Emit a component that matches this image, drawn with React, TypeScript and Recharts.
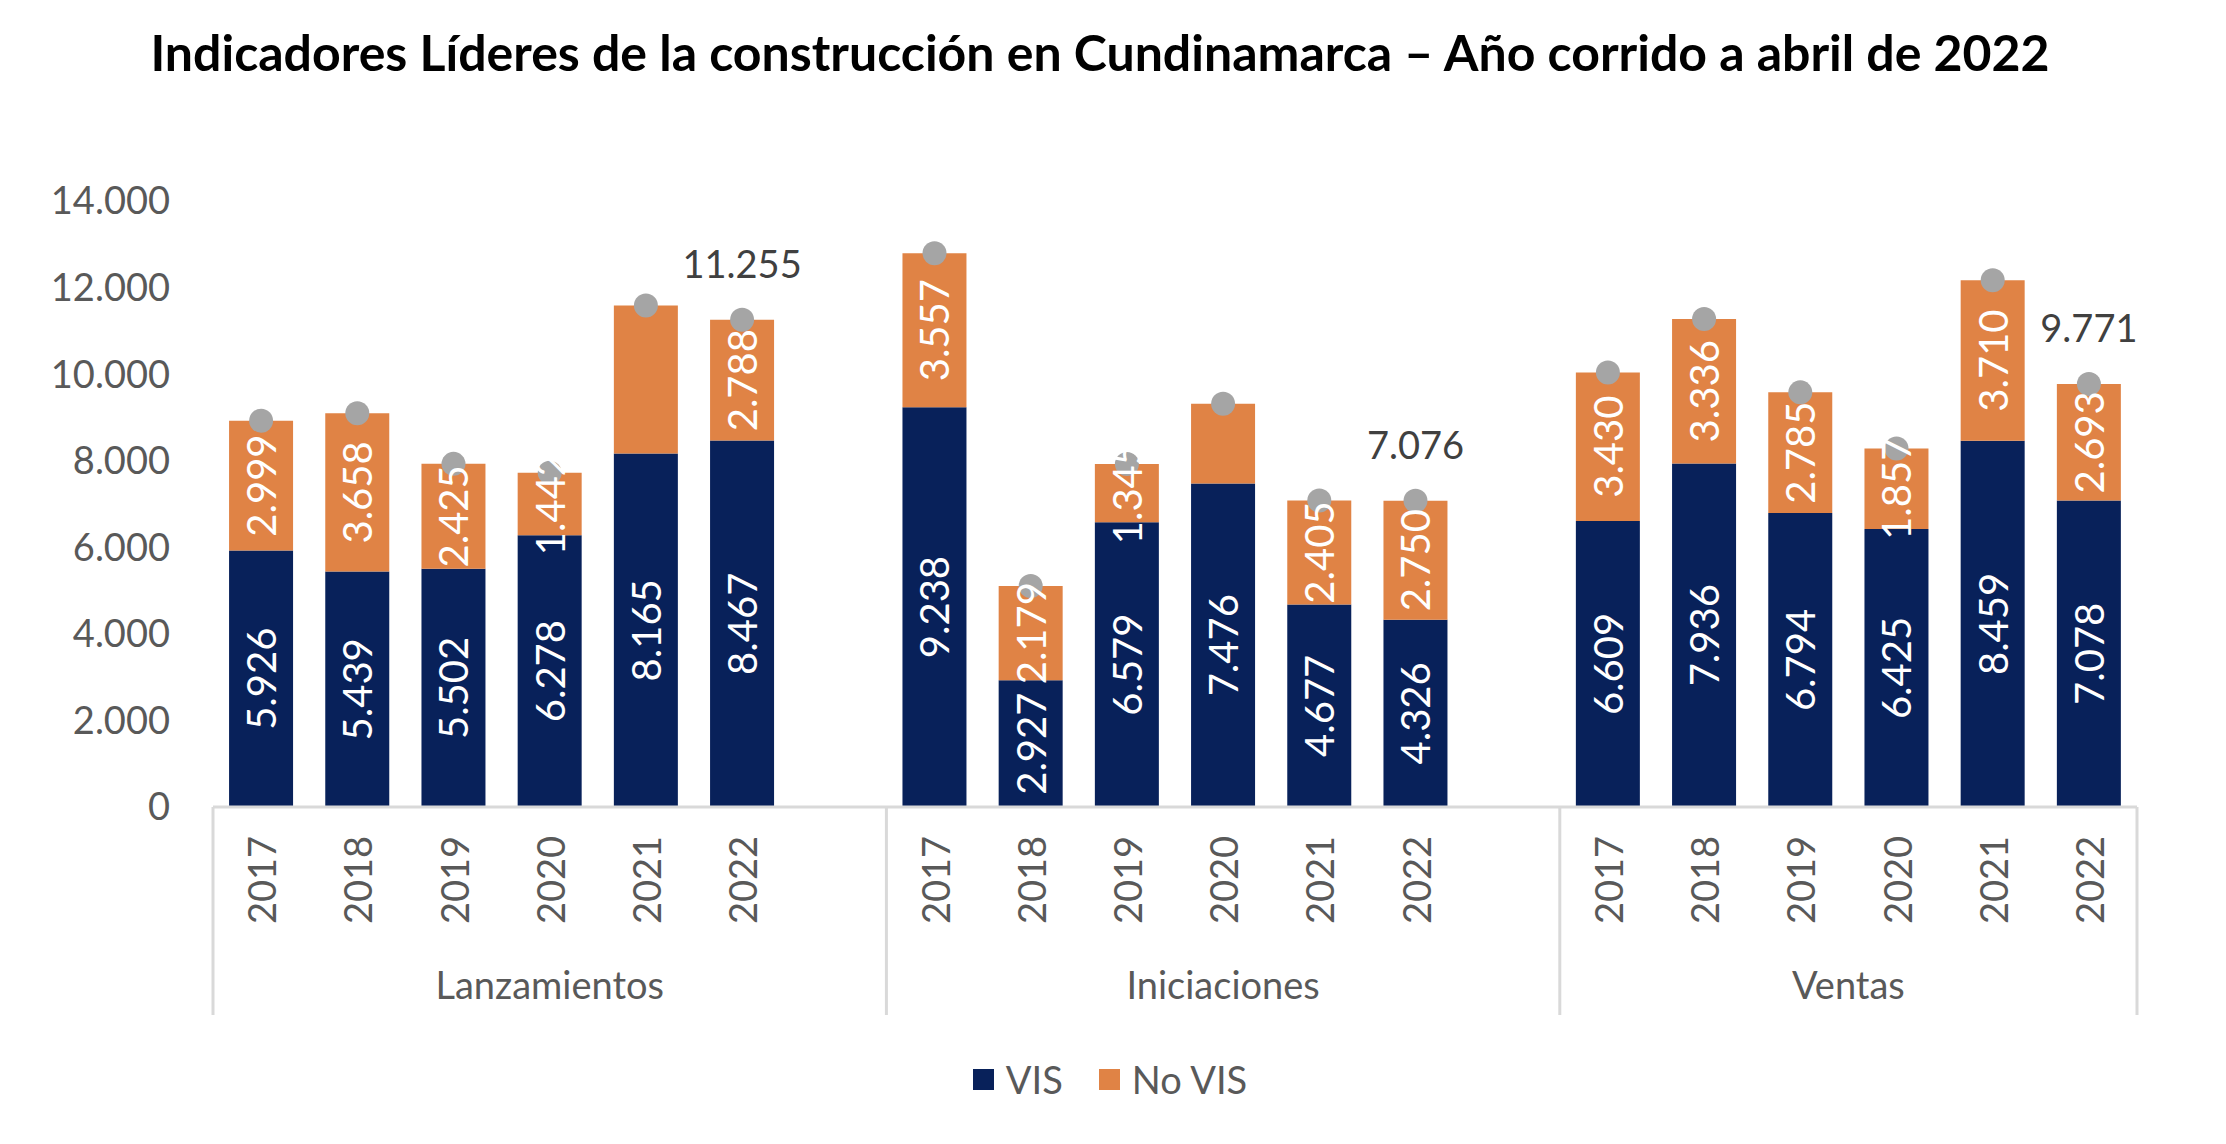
import React from 'react';
import { ComposedChart, Bar, Line, XAxis, YAxis, LabelList } from 'recharts';

const groups = ['Lanzamientos', 'Iniciaciones', 'Ventas'];
const years = ['2017', '2018', '2019', '2020', '2021', '2022'];
const lanzamientosVIS = [5926, 5439, 5502, 6278, 8165, 8467];
const lanzamientosNoVIS = [2999, 3658, 2425, 1442, 3420, 2788];
const iniciacionesVIS = [9238, 2927, 6579, 7476, 4677, 4326];
const iniciacionesNoVIS = [3557, 2179, 1345, 1840, 2405, 2750];
const ventasVIS = [6609, 7936, 6794, 6425, 8459, 7078];
const ventasNoVIS = [3430, 3336, 2785, 1857, 3710, 2693];
const hiddenNoVisLabels = ['Lanzamientos 2021', 'Iniciaciones 2020'];
const totalLabelYear = '2022';
const yTicks = [0, 2000, 4000, 6000, 8000, 10000, 12000, 14000];

const NAVY = '#08215A';
const ORANGE = '#E08345';
const GREY_DOT = '#A5A5A5';
const AXIS_TEXT = '#595959';
const FONT = 'Lato, "Open Sans", sans-serif';

const visByGroup = [lanzamientosVIS, iniciacionesVIS, ventasVIS];
const noVisByGroup = [lanzamientosNoVIS, iniciacionesNoVIS, ventasNoVIS];

type Row = {
  key: string;
  group: string;
  year: string;
  vis: number | null;
  noVis: number | null;
  total: number | null;
  visLabel: number | null;
  noVisLabel: number | null;
  totalLabel: number | null;
  groupStart: boolean;
  groupSize: number;
  last: boolean;
};

const data: Row[] = [];
groups.forEach((g, gi) => {
  const isLastGroup = gi === groups.length - 1;
  const size = years.length + (isLastGroup ? 0 : 1);
  years.forEach((yr, yi) => {
    const v = visByGroup[gi][yi];
    const n = noVisByGroup[gi][yi];
    const key = `${g} ${yr}`;
    data.push({
      key,
      group: g,
      year: yr,
      vis: v,
      noVis: n,
      total: v + n,
      visLabel: v,
      noVisLabel: hiddenNoVisLabels.includes(key) ? null : n,
      totalLabel: yr === totalLabelYear ? v + n : null,
      groupStart: yi === 0,
      groupSize: size,
      last: isLastGroup && yi === years.length - 1,
    });
  });
  if (!isLastGroup) {
    data.push({
      key: `gap ${gi}`,
      group: g,
      year: '',
      vis: null,
      noVis: null,
      total: null,
      visLabel: null,
      noVisLabel: null,
      totalLabel: null,
      groupStart: false,
      groupSize: size,
      last: false,
    });
  }
});

const fmt = (v: number) => {
  const s = String(Math.round(v));
  return s.replace(/\B(?=(\d{3})+(?!\d))/g, '.');
};

const XTick = (props: any) => {
  const { x, y, payload } = props;
  const index = payload?.index ?? props.index;
  const row = data[index];
  if (!row) return null;
  const half = payload?.offset ?? 48;
  const lineLen = 208;
  const items: React.ReactNode[] = [];
  if (row.year) {
    const ty = y + 73;
    items.push(
      <text
        key="yr"
        x={x}
        y={ty}
        transform={`rotate(-90, ${x}, ${ty})`}
        textAnchor="middle"
        dominantBaseline="central"
        fontSize={38}
        fill={AXIS_TEXT}
        fontFamily={FONT}
      >
        {row.year}
      </text>
    );
  }
  if (row.groupStart) {
    const left = x - half;
    items.push(
      <line key="sep" x1={left} x2={left} y1={y} y2={y + lineLen} stroke="#D9D9D9" strokeWidth={3} />
    );
    items.push(
      <text
        key="grp"
        x={left + row.groupSize * half}
        y={y + 177}
        textAnchor="middle"
        dominantBaseline="central"
        fontSize={38}
        fill={AXIS_TEXT}
        fontFamily={FONT}
      >
        {row.group}
      </text>
    );
  }
  if (row.last) {
    const right = x + half;
    items.push(
      <line key="end" x1={right} x2={right} y1={y} y2={y + lineLen} stroke="#D9D9D9" strokeWidth={3} />
    );
  }
  return <g>{items}</g>;
};

const BarLabel = (props: any) => {
  const { x, y, width, height, value } = props;
  if (value == null || Number.isNaN(Number(value))) return null;
  const cx = x + width / 2;
  const cy = y + height / 2;
  return (
    <text
      x={cx}
      y={cy}
      transform={`rotate(-90, ${cx}, ${cy})`}
      textAnchor="middle"
      dominantBaseline="central"
      fontSize={40}
      fill="#FFFFFF"
      fontFamily={FONT}
    >
      {fmt(Number(value))}
    </text>
  );
};

const TotalLabel = (props: any) => {
  const { x, y, value } = props;
  if (value == null || Number.isNaN(Number(value))) return null;
  return (
    <text
      x={x}
      y={y - 57}
      textAnchor="middle"
      dominantBaseline="central"
      fontSize={38}
      fill="#404040"
      fontFamily={FONT}
    >
      {fmt(Number(value))}
    </text>
  );
};

const legendItems = [
  { name: 'VIS', color: NAVY },
  { name: 'No VIS', color: ORANGE },
];

export default function App() {
  return (
    <div
      style={{
        position: 'absolute',
        left: 0,
        top: 0,
        width: 2226,
        height: 1144,
        background: '#FFFFFF',
        fontFamily: FONT,
        overflow: 'hidden',
      }}
    >
      <div
        style={{
          position: 'absolute',
          left: 0,
          top: 22,
          width: 2200,
          textAlign: 'center',
          fontSize: 50,
          fontWeight: 700,
          lineHeight: '60px',
          color: '#000000',
          fontFamily: FONT,
        }}
      >
        Indicadores Líderes de la construcción en Cundinamarca – Año corrido a abril de 2022
      </div>
      <ComposedChart
        width={2226}
        height={1144}
        data={data}
        margin={{ top: 201, right: 89, bottom: 0, left: 0 }}
        barCategoryGap="16.7%"
      >
        <YAxis
          width={213}
          domain={[0, 14000]}
          ticks={yTicks}
          axisLine={false}
          tickLine={false}
          tickSize={0}
          tickMargin={43}
          tickFormatter={fmt}
          tick={{ fontSize: 38, fill: AXIS_TEXT, fontFamily: FONT }}
          interval={0}
        />
        <XAxis
          dataKey="key"
          height={337}
          interval={0}
          tickLine={false}
          tickSize={0}
          tickMargin={0}
          axisLine={{ stroke: '#D9D9D9', strokeWidth: 3 }}
          tick={<XTick />}
        />
        <Bar dataKey="vis" stackId="a" fill={NAVY} isAnimationActive={false}>
          <LabelList dataKey="visLabel" content={<BarLabel />} />
        </Bar>
        <Bar dataKey="noVis" stackId="a" fill={ORANGE} isAnimationActive={false}>
          <LabelList dataKey="noVisLabel" content={<BarLabel />} />
        </Bar>
        <Line
          dataKey="total"
          stroke="none"
          isAnimationActive={false}
          dot={{ r: 12, fill: GREY_DOT, stroke: 'none' }}
          activeDot={false}
        >
          <LabelList dataKey="totalLabel" content={<TotalLabel />} />
        </Line>
      </ComposedChart>
      <div
        style={{
          position: 'absolute',
          left: 0,
          top: 1056,
          width: 2220,
          display: 'flex',
          justifyContent: 'center',
          alignItems: 'center',
          gap: 36,
          fontSize: 38,
          color: AXIS_TEXT,
          fontFamily: FONT,
          lineHeight: '46px',
        }}
      >
        {legendItems.map((it) => (
          <div key={it.name} style={{ display: 'flex', alignItems: 'center', gap: 12 }}>
            <span style={{ display: 'inline-block', width: 21, height: 21, background: it.color }} />
            <span>{it.name}</span>
          </div>
        ))}
      </div>
    </div>
  );
}
